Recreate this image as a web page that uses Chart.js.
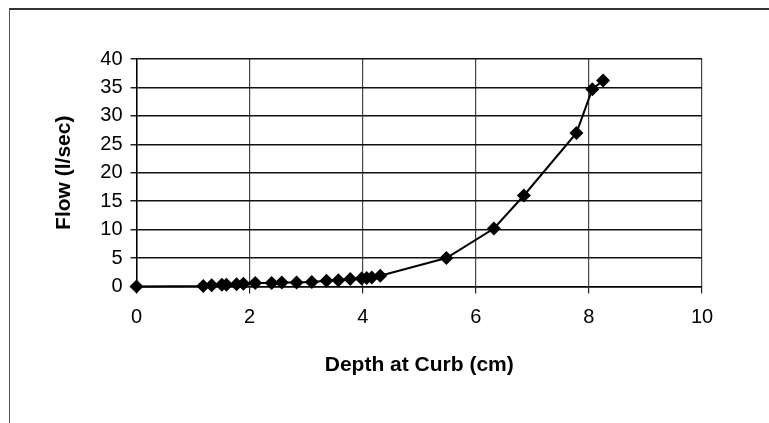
<!DOCTYPE html>
<html>
<head>
<meta charset="utf-8">
<script src="https://cdn.jsdelivr.net/npm/chart.js@4.4.0/dist/chart.umd.min.js"></script>
<style>
  html, body { margin: 0; padding: 0; background: #fff; overflow: hidden; }
  #frame {
    position: absolute; left: 9px; top: 8px; width: 900px; height: 600px;
    border-left: 1px solid #555; border-top: 2px solid #333;
  }
  #wrap { position: absolute; left: 0; top: 0; width: 769px; height: 423px; }
</style>
</head>
<body>
<div id="frame"></div>
<div id="wrap"><canvas id="myChart" width="769" height="423"></canvas></div>
<script>
'use strict';

// DATA
let depth = [0, 1.18, 1.33, 1.51, 1.59, 1.77, 1.89, 2.10, 2.39, 2.57, 2.83, 3.10, 3.36,
  3.57, 3.78, 3.98, 4.07, 4.16, 4.31, 5.48, 6.32, 6.85, 7.78, 8.06, 8.25];
let flow = [0, 0.1, 0.2, 0.3, 0.3, 0.4, 0.5, 0.6, 0.6, 0.7, 0.7, 0.8, 1.0,
  1.1, 1.3, 1.4, 1.5, 1.6, 1.9, 5.0, 10.2, 16.0, 27.0, 34.7, 36.2];
let xTicks = [0, 2, 4, 6, 8, 10];
let yTicks = [0, 5, 10, 15, 20, 25, 30, 35, 40];
let xTitle = 'Depth at Curb (cm)';
let yTitle = 'Flow (l/sec)';

// HELPERS
function makePoints() {
  let pts = [];
  for (let i = 0; i < depth.length; i++) {
    pts.push({ x: depth[i], y: flow[i] });
  }
  return pts;
}

function fixedTicks(list) {
  return function (scale) {
    scale.ticks = list.map(v => ({ value: v }));
  };
}

const tickFont = { family: 'Liberation Sans, Arial, sans-serif', size: 20 };
const titleFont = { family: 'Liberation Sans, Arial, sans-serif', size: 21, weight: 'bold' };

// CHART
const ctx = document.getElementById('myChart').getContext('2d');
const myChart = new Chart(ctx, {
  type: 'scatter',
  data: {
    datasets: [{
      data: makePoints(),
      showLine: true,
      clip: false,
      borderColor: '#000',
      borderWidth: 2,
      backgroundColor: '#000',
      pointStyle: 'rectRot',
      pointRadius: 7,
      pointBorderWidth: 0
    }]
  },
  options: {
    responsive: false,
    animation: false,
    devicePixelRatio: 1,
    layout: { padding: { left: 52, top: 59, right: 67, bottom: 45 } },
    plugins: { legend: { display: false }, tooltip: { enabled: false } },
    scales: {
      x: {
        type: 'linear',
        min: 0,
        max: 10,
        afterBuildTicks: fixedTicks(xTicks),
        afterFit: function (scale) { scale.height = 91.5; },
        grid: { color: '#444', lineWidth: 1.2, tickLength: 7, tickColor: '#222' },
        border: { color: '#000', width: 1.5 },
        ticks: { color: '#000', font: tickFont, padding: 12, maxRotation: 0 },
        title: { display: true, text: xTitle, color: '#000', font: titleFont, padding: 0 }
      },
      y: {
        type: 'linear',
        min: 0,
        max: 40,
        afterBuildTicks: fixedTicks(yTicks),
        afterFit: function (scale) { scale.width = 84.5; },
        grid: { color: '#111', lineWidth: 1.5, tickLength: 6, tickColor: '#222' },
        border: { color: '#000', width: 1.5 },
        ticks: { color: '#000', font: tickFont, padding: 8 },
        title: { display: true, text: yTitle, color: '#000', font: titleFont, padding: 0 }
      }
    }
  }
});
</script>
</body>
</html>
